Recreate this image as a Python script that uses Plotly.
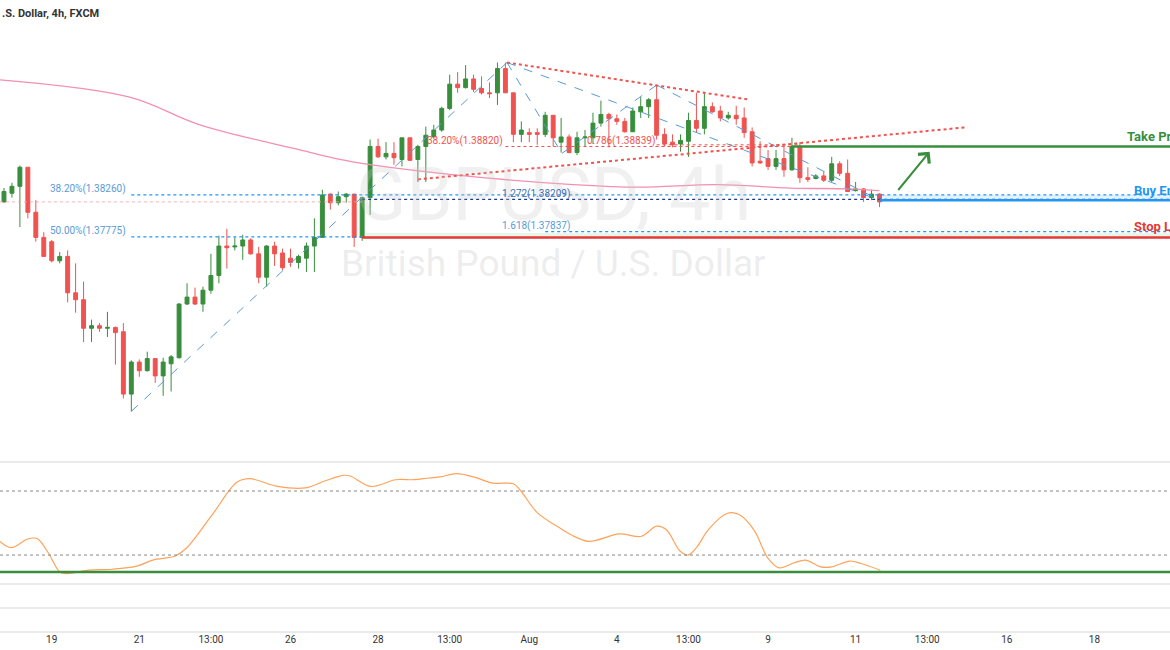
import plotly.graph_objects as go

# ---- candle data (4h bars, index based) ----
opens = [1.3818,1.3828,1.3836,1.3858,1.3806,1.3777,1.3772,1.3750,1.3755,1.3713,1.3705,1.3672,1.3675,1.3672,1.3673,1.3668,1.3596,1.3633,1.3623,1.3637,
         1.3617,1.3631,1.3638,1.3700,1.3708,1.3700,1.3716,1.3733,1.3767,1.3766,1.3767,1.3774,1.3758,1.3731,1.3767,1.3759,1.3753,1.3748,1.3753,1.3767,
         1.3777,1.3827,1.3817,1.3824,1.3827,1.3777,1.3823,1.3882,1.3870,1.3874,1.3867,1.3892,1.3867,1.3882,1.3893,1.3901,1.3926,1.3954,1.3950,1.3960,
         1.3949,1.3944,1.3944,1.3972,1.3944,1.3896,1.3898,1.3898,1.3896,1.3918,1.3887,1.3893,1.3875,1.3892,1.3892,1.3909,1.3919,1.3914,1.3911,1.3899,
         1.3922,1.3928,1.3936,1.3896,1.3887,1.3885,1.3888,1.3912,1.3903,1.3928,1.3923,1.3915,1.3918,1.3915,1.3899,1.3865,1.3868,1.3859,1.3868,1.3855,
         1.3882,1.3846,1.3845,1.3848,1.3843,1.3862,1.3851,1.3831,1.3833,1.3823,1.3827]
highs = [1.3834,1.3840,1.3860,1.3858,1.3820,1.3783,1.3774,1.3760,1.3762,1.3747,1.3726,1.3682,1.3678,1.3691,1.3674,1.3678,1.3635,1.3636,1.3645,1.3637,
         1.3638,1.3641,1.3701,1.3724,1.3719,1.3720,1.3758,1.3779,1.3787,1.3777,1.3780,1.3776,1.3766,1.3768,1.3772,1.3764,1.3764,1.3757,1.3771,1.3799,
         1.3832,1.3828,1.3830,1.3828,1.3827,1.3824,1.3890,1.3891,1.3887,1.3887,1.3892,1.3892,1.3884,1.3905,1.3907,1.3928,1.3965,1.3968,1.3976,1.3965,
         1.3963,1.3956,1.3979,1.3979,1.3944,1.3911,1.3903,1.3903,1.3922,1.3918,1.3915,1.3896,1.3899,1.3901,1.3921,1.3935,1.3921,1.3919,1.3915,1.3927,
         1.3939,1.3938,1.3953,1.3903,1.3896,1.3896,1.3921,1.3944,1.3945,1.3933,1.3929,1.3922,1.3929,1.3927,1.3904,1.3888,1.3878,1.3878,1.3884,1.3892,
         1.3887,1.3858,1.3850,1.3853,1.3870,1.3865,1.3867,1.3841,1.3834,1.3832,1.3828]
lows = [1.3817,1.3823,1.3789,1.3799,1.3772,1.3755,1.3748,1.3747,1.3702,1.3690,1.3656,1.3656,1.3668,1.3662,1.3630,1.3591,1.3576,1.3616,1.3622,1.3609,
        1.3594,1.3599,1.3637,1.3699,1.3699,1.3691,1.3712,1.3724,1.3741,1.3762,1.3751,1.3757,1.3724,1.3720,1.3744,1.3739,1.3743,1.3741,1.3737,1.3737,
        1.3777,1.3809,1.3814,1.3817,1.3766,1.3773,1.3803,1.3869,1.3867,1.3861,1.3859,1.3865,1.3841,1.3841,1.3893,1.3899,1.3924,1.3944,1.3949,1.3945,
        1.3942,1.3938,1.3930,1.3944,1.3887,1.3887,1.3887,1.3884,1.3893,1.3882,1.3875,1.3874,1.3872,1.3882,1.3885,1.3905,1.3881,1.3907,1.3898,1.3899,
        1.3915,1.3915,1.3890,1.3882,1.3881,1.3876,1.3870,1.3898,1.3896,1.3921,1.3911,1.3913,1.3907,1.3892,1.3859,1.3862,1.3855,1.3855,1.3847,1.3854,
        1.3840,1.3841,1.3844,1.3841,1.3841,1.3848,1.3830,1.3830,1.3818,1.3820,1.3812]
closes = [1.3830,1.3836,1.3858,1.3806,1.3777,1.3755,1.3750,1.3755,1.3713,1.3705,1.3672,1.3675,1.3672,1.3673,1.3667,1.3596,1.3633,1.3623,1.3637,1.3617,
          1.3633,1.3639,1.3700,1.3708,1.3700,1.3716,1.3733,1.3767,1.3765,1.3767,1.3774,1.3758,1.3731,1.3767,1.3758,1.3742,1.3748,1.3755,1.3767,1.3777,
          1.3826,1.3817,1.3824,1.3827,1.3777,1.3823,1.3882,1.3870,1.3874,1.3869,1.3892,1.3866,1.3882,1.3895,1.3901,1.3926,1.3954,1.3950,1.3960,1.3948,
          1.3944,1.3943,1.3972,1.3944,1.3896,1.3901,1.3896,1.3896,1.3918,1.3892,1.3893,1.3875,1.3892,1.3893,1.3909,1.3919,1.3914,1.3911,1.3899,1.3923,
          1.3928,1.3936,1.3895,1.3885,1.3884,1.3889,1.3912,1.3903,1.3928,1.3922,1.3915,1.3918,1.3914,1.3898,1.3863,1.3863,1.3859,1.3868,1.3855,1.3882,
          1.3846,1.3844,1.3848,1.3843,1.3862,1.3851,1.3830,1.3833,1.3823,1.3827,1.3818]
bar_index = list(range(len(opens)))

tick_index = [6, 17, 26, 36, 47, 56, 66, 77, 86, 96, 107, 116, 126, 137]
tick_labels = ["19", "21", "13:00", "26", "28", "13:00", "Aug", "4", "13:00", "9", "11", "13:00", "16", "18"]

ma_index = [-0.5, 15.8, 24.6, 37.2, 42.2, 46.0, 56.9, 71.5, 79.9, 89.6, 98.7, 106.3, 110]
ma_value = [1.3959, 1.3939, 1.3907, 1.3878, 1.3867, 1.3861, 1.3849, 1.3838, 1.3835, 1.3838, 1.3834, 1.3833, 1.3831]

osc_index = [-0.5,0.9,3.06,4.2,5.6,7.0,7.9,10.7,13.6,16.8,18.7,21.5,22.9,26.2,29.3,30.9,34.2,37.9,40.3,42.6,43.5,46.1,49.2,51.5,53.4,54.8,
             56.9,59.0,61.4,64.0,64.9,67.0,69.8,71.2,73.5,77.3,80.1,82.0,83.2,85.0,86.0,87.1,88.5,90.9,92.3,94.2,96.0,97.4,99.3,100.7,102.6,104.0,106.3,107.7,110.1]
osc_value = [32.8,27.0,35.3,35.3,21.7,4.2,2.6,5.8,6.7,9.9,15.3,19.1,26.4,58.2,88.4,91.6,84.6,83.0,89.4,94.7,94.1,84.3,90.6,90.6,92.2,93.2,
             96.3,93.2,87.4,86.8,80.5,59.8,45.5,39.2,32.8,39.8,37.6,47.1,43.9,23.3,20.1,28.0,43.9,59.2,58.2,43.9,16.9,8.0,12.8,15.3,9.0,9.0,14.4,12.1,5.8]

zig_index = [16, 63.2, 70.1, 82.0, 110]
zig_price = [1.3576, 1.3979, 1.3874, 1.3953, 1.3820]

fib_382, fib_500 = 1.38260, 1.37775
ext_1272, ext_1618 = 1.38209, 1.37837
ret_382, ret_786 = 1.38820, 1.38839
take_profit, buy_entry, stop_loss = 1.3882, 1.3820, 1.3777

GREEN, RED, BLUE = "#388e3c", "#ef5350", "#2196f3"
XR = [-0.5, 146.5]

fig = go.Figure()
fig.add_trace(go.Candlestick(
    x=bar_index, open=opens, high=highs, low=lows, close=closes,
    increasing=dict(line=dict(color=GREEN, width=1), fillcolor=GREEN),
    decreasing=dict(line=dict(color=RED, width=1), fillcolor=RED),
    whiskerwidth=0, showlegend=False, xaxis="x", yaxis="y"))
fig.add_trace(go.Scatter(x=ma_index, y=ma_value, mode="lines", line=dict(color="#f48fb1", width=1.3, shape="spline"),
                         showlegend=False, hoverinfo="skip"))

def seg(x0, y0, x1, y1, color, width=1.2, dash=None):
    fig.add_shape(type="line", xref="x", yref="y", x0=x0, y0=y0, x1=x1, y1=y1,
                  line=dict(color=color, width=width, dash=dash))

for i in range(len(zig_index) - 1):
    seg(zig_index[i], zig_price[i], zig_index[i+1], zig_price[i+1], "#5b9bd5", 1, "dash")
seg(zig_index[1], zig_price[1], zig_index[4], zig_price[4], "#5b9bd5", 1, "dash")

seg(63.2, 1.3979, 93.7, 1.3936, RED, 2, "dot")
seg(52, 1.3844, 120.7, 1.3904, RED, 2, "dot")

seg(16, fib_382, XR[1], fib_382, BLUE, 1.3, "dot")
seg(16, fib_500, 45, fib_500, BLUE, 1.3, "dot")
seg(45, ext_1272, XR[1], ext_1272, "#1a3b8c", 1.3, "dot")
seg(68, ext_1618, XR[1], ext_1618, BLUE, 1.3, "dot")
seg(63, ret_382, 100, ret_382, RED, 1, "dot")
seg(82, ret_786, 100, ret_786, RED, 1, "dot")
seg(-0.5, 1.3818, 45, 1.3818, "#f4a0a0", 0.8, "dot")

fig.add_shape(type="rect", xref="x", yref="y", x0=45, x1=XR[1], y0=stop_loss, y1=stop_loss + 0.0005,
              fillcolor="rgba(76,175,80,0.12)", line_width=0)
fig.add_shape(type="rect", xref="x", yref="y", x0=110, x1=XR[1], y0=buy_entry, y1=fib_382,
              fillcolor="rgba(33,150,243,0.12)", line_width=0)
seg(99, take_profit, XR[1], take_profit, GREEN, 2.5)
seg(110, buy_entry, XR[1], buy_entry, BLUE, 2.5)
seg(45, stop_loss, XR[1], stop_loss, "#e53935", 2.5)

fig.add_trace(go.Scatter(x=osc_index, y=osc_value, mode="lines", line=dict(color="#ffa25a", width=1.2, shape="spline"),
                         xaxis="x2", yaxis="y2", showlegend=False, hoverinfo="skip"))
for lvl in (80, 20):
    fig.add_shape(type="line", xref="x2", yref="y2", x0=XR[0], x1=XR[1], y0=lvl, y1=lvl,
                  line=dict(color="#888", width=1, dash="dot"))
fig.add_shape(type="line", xref="x2", yref="y2", x0=XR[0], x1=XR[1], y0=4.1, y1=4.1, line=dict(color=GREEN, width=2.5))
for py in (462, 584, 608, 632):
    fig.add_shape(type="line", xref="paper", yref="paper", x0=0, x1=1, y0=1 - py / 650, y1=1 - py / 650,
                  line=dict(color="#e3e3e3", width=1.5))

ann = []
def txt(x, y, t, color, size=9, xanchor="left", bold=False, xref="x", yref="y", family="Roboto"):
    ann.append(dict(x=x, y=y, xref=xref, yref=yref, text=f"<b>{t}</b>" if bold else t, showarrow=False,
                    xanchor=xanchor, yanchor="middle", font=dict(color=color, size=size, family=family)))

txt(69, 1.3826, "GBPUSD, 4h", "rgba(200,200,200,0.28)", 74, "center")
txt(69, 1.3747, "British Pound / U.S. Dollar", "rgba(200,200,200,0.32)", 37, "center")
txt(15.6, fib_382 + 0.0007, "38.20%(1.38260)", "#5b9bd5", 10, "right")
txt(15.6, fib_500 + 0.0007, "50.00%(1.37775)", "#5b9bd5", 10, "right")
txt(62.3, ext_1272 + 0.0006, "1.272(1.38209)", "#3f6fb5", 10, "left")
txt(62.3, ext_1618 + 0.0006, "1.618(1.37837)", "#5b9bd5", 10, "left")
txt(63, ret_382 + 0.0006, "38.20%(1.38820)", RED, 10, "right")
txt(82, ret_786 + 0.0004, "0.786(1.38839)", RED, 10, "right")
txt(140.8, take_profit + 0.0011, "Take Profit", GREEN, 13, bold=True)
txt(141.7, buy_entry + 0.0011, "Buy Entry", BLUE, 13, bold=True)
txt(141.7, stop_loss + 0.0012, "Stop Loss", "#e53935", 13, bold=True)
ann.append(dict(x=0, y=1 - 13 / 650, xref="paper", yref="paper", text="<b>.S. Dollar, 4h, FXCM</b>", showarrow=False,
                xanchor="left", yanchor="middle", font=dict(color="#333", size=11, family="Roboto")))
ann.append(dict(x=116.3, y=1.3876, ax=112.2, ay=1.3830, xref="x", yref="y", axref="x", ayref="y", text="",
                showarrow=True, arrowhead=4, arrowsize=1.4, arrowwidth=2, arrowcolor=GREEN))

fig.update_layout(
    width=1170, height=650, margin=dict(l=0, r=0, t=0, b=0),
    paper_bgcolor="white", plot_bgcolor="white", annotations=ann,
    xaxis=dict(range=XR, domain=[0, 1], showgrid=False, zeroline=False, showticklabels=False,
               rangeslider=dict(visible=False), anchor="y"),
    yaxis=dict(range=[1.35187, 1.40512], domain=[1 - 461 / 650, 1], showgrid=False, zeroline=False, showticklabels=False),
    xaxis2=dict(range=XR, domain=[0, 1], anchor="y2", showgrid=False, zeroline=False,
                tickmode="array", tickvals=tick_index, ticktext=tick_labels, ticks="",
                tickfont=dict(size=10, color="#333", family="Roboto")),
    yaxis2=dict(range=[-52.1, 107.2], domain=[1 - 632 / 650, 1 - 462 / 650], showgrid=False, zeroline=False, showticklabels=False),
)
fig.write_html("out.html", config={"displayModeBar": False},
               post_script="document.body.style.margin='0';document.body.style.overflow='hidden';")
